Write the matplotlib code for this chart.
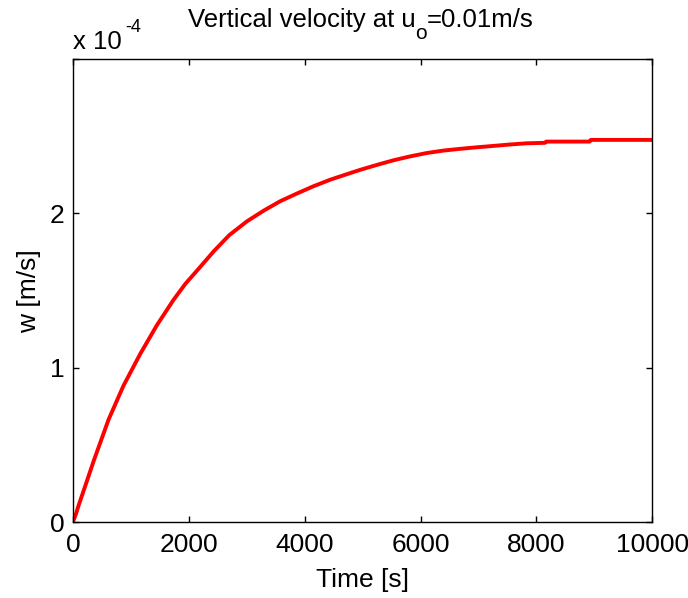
import numpy as np
import matplotlib
matplotlib.use("Agg")
import matplotlib.pyplot as plt

plt.rcParams['font.family'] = ['Liberation Sans', 'DejaVu Sans']

# time [s] and vertical velocity [x 1e-4 m/s]
time = [0, 50, 100, 200, 362, 616, 874, 1162, 1448, 1736, 1943, 2138, 2431,
        2700, 3007, 3300, 3581, 3870, 4155, 4450, 4731, 4960, 5248, 5534,
        5820, 6110, 6400, 6684, 6970, 7259, 7540, 7834, 8150, 8170, 8920,
        8940, 10000]
w = [0, 0.05, 0.11, 0.22, 0.40, 0.665, 0.885, 1.09, 1.275, 1.44, 1.545,
     1.628, 1.755, 1.86, 1.95, 2.02, 2.08, 2.13, 2.177, 2.22, 2.255, 2.283,
     2.315, 2.345, 2.37, 2.392, 2.408, 2.419, 2.429, 2.438, 2.447, 2.455,
     2.458, 2.466, 2.466, 2.477, 2.477]

yticks = [0, 1, 2, 3]
ytick_labels = ['0', '1', '2', '']
xticks = [0, 2000, 4000, 6000, 8000, 10000]

W, H = 688, 598
fig = plt.figure(figsize=(W / 100, H / 100), dpi=100)
ax = fig.add_axes([0.106, 0.127, 0.842, 0.774])

ax.plot(time, np.array(w), color='red', linewidth=2.8)

ax.set_xlim(0, 10000)
ax.set_ylim(0, 3)
ax.set_xticks(xticks)
ax.set_xticklabels([str(t) for t in xticks])
ax.set_yticks(yticks)
ax.set_yticklabels(ytick_labels)

ax.tick_params(direction='in', length=4, width=1, top=True, right=True,
               labelsize=19, colors='black')
ax.tick_params(axis='x', pad=8)
ax.tick_params(axis='y', pad=6)
for s in ax.spines.values():
    s.set_linewidth(1.0)

ax.set_xlabel('Time [s]', fontsize=19, labelpad=8)
ax.set_ylabel('w [m/s]', fontsize=19, labelpad=6)

# MATLAB-style exponent label above the y axis
fig.text(73 / W, 1 - 49 / H, 'x 10', fontsize=18.5, va='baseline')
fig.text(125 / W, 1 - 32 / H, '-4', fontsize=13, va='baseline')

# title with a lowered subscript, pieced together
renderer = fig.canvas.get_renderer()
pieces = [('Vertical velocity at u', 18.5, 27), ('o', 15, 39),
          ('=0.01m/s', 18.5, 27)]
texts = [fig.text(0, 1 - base / H, s, fontsize=fs, va='baseline')
         for s, fs, base in pieces]
widths = [t.get_window_extent(renderer).width for t in texts]
x = 361 - sum(widths) / 2
for t, wd in zip(texts, widths):
    t.set_x(x / W)
    x += wd

fig.savefig('out.png', dpi=100)
